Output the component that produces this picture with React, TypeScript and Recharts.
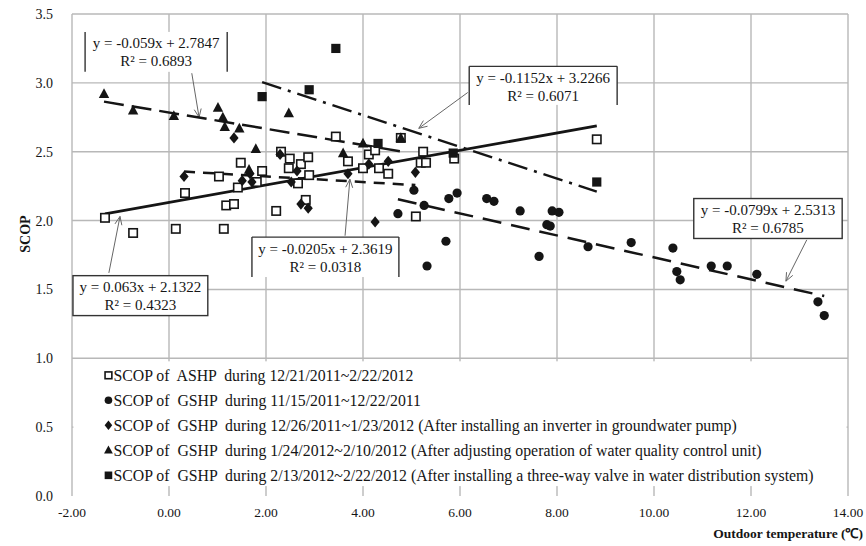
import React from 'react';
import {
  ScatterChart, Scatter, XAxis, YAxis, CartesianGrid, ReferenceArea, ReferenceLine, Label,
} from 'recharts';

const xTicks = [-2, 0, 2, 4, 6, 8, 10, 12, 14];
const yTicks = [0, 0.5, 1, 1.5, 2, 2.5, 3, 3.5];

// ASHP 12/21/2011 ~ 2/22/2012
const ashp = [
  { x: -1.32, y: 2.02 }, { x: -0.74, y: 1.91 }, { x: 0.14, y: 1.94 }, { x: 1.13, y: 1.94 },
  { x: 0.33, y: 2.2 }, { x: 1.18, y: 2.11 }, { x: 1.34, y: 2.12 }, { x: 2.21, y: 2.07 },
  { x: 1.48, y: 2.42 }, { x: 1.03, y: 2.32 }, { x: 1.92, y: 2.36 }, { x: 1.42, y: 2.24 },
  { x: 1.81, y: 2.28 }, { x: 2.31, y: 2.5 }, { x: 2.49, y: 2.45 }, { x: 2.72, y: 2.41 },
  { x: 2.87, y: 2.46 }, { x: 2.47, y: 2.38 }, { x: 2.89, y: 2.33 }, { x: 2.66, y: 2.27 },
  { x: 2.82, y: 2.15 }, { x: 3.44, y: 2.61 }, { x: 3.69, y: 2.43 }, { x: 4.0, y: 2.38 },
  { x: 4.12, y: 2.48 }, { x: 4.25, y: 2.51 }, { x: 4.33, y: 2.38 }, { x: 4.52, y: 2.34 },
  { x: 4.78, y: 2.6 }, { x: 5.09, y: 2.03 }, { x: 5.19, y: 2.42 }, { x: 5.24, y: 2.5 },
  { x: 5.3, y: 2.42 }, { x: 5.88, y: 2.45 }, { x: 8.82, y: 2.59 },
];

// GSHP 11/15/2011 ~ 12/22/2011
const gshpNov = [
  { x: 4.72, y: 2.05 }, { x: 5.05, y: 2.22 }, { x: 5.26, y: 2.11 }, { x: 5.32, y: 1.67 },
  { x: 5.71, y: 1.85 }, { x: 5.77, y: 2.16 }, { x: 5.94, y: 2.2 }, { x: 6.55, y: 2.16 },
  { x: 6.7, y: 2.14 }, { x: 7.24, y: 2.07 }, { x: 7.63, y: 1.74 }, { x: 7.79, y: 1.97 },
  { x: 7.86, y: 1.96 }, { x: 7.9, y: 2.07 }, { x: 8.04, y: 2.06 }, { x: 8.64, y: 1.81 },
  { x: 9.53, y: 1.84 }, { x: 10.39, y: 1.8 }, { x: 10.47, y: 1.63 }, { x: 10.54, y: 1.57 },
  { x: 11.18, y: 1.67 }, { x: 11.51, y: 1.67 }, { x: 12.12, y: 1.61 }, { x: 13.38, y: 1.41 },
  { x: 13.51, y: 1.31 },
];

// GSHP 12/26/2011 ~ 1/23/2012
const gshpDec = [
  { x: 0.31, y: 2.32 }, { x: 1.34, y: 2.6 }, { x: 1.51, y: 2.29 }, { x: 1.67, y: 2.34 },
  { x: 1.71, y: 2.28 }, { x: 2.29, y: 2.48 }, { x: 2.52, y: 2.28 }, { x: 2.64, y: 2.36 },
  { x: 2.72, y: 2.12 }, { x: 2.87, y: 2.09 }, { x: 3.69, y: 2.34 }, { x: 4.12, y: 2.41 },
  { x: 4.25, y: 1.99 }, { x: 4.52, y: 2.43 }, { x: 5.08, y: 2.35 },
];

// GSHP 1/24/2012 ~ 2/10/2012
const gshpJan = [
  { x: -1.34, y: 2.92 }, { x: -0.74, y: 2.8 }, { x: 0.1, y: 2.76 }, { x: 1.01, y: 2.82 },
  { x: 1.11, y: 2.75 }, { x: 1.15, y: 2.68 }, { x: 1.45, y: 2.67 }, { x: 1.65, y: 2.37 },
  { x: 1.79, y: 2.52 }, { x: 2.47, y: 2.78 }, { x: 3.59, y: 2.49 }, { x: 4.0, y: 2.56 },
  { x: 4.78, y: 2.6 },
];

// GSHP 2/13/2012 ~ 2/22/2012
const gshpFeb = [
  { x: 1.92, y: 2.9 }, { x: 2.89, y: 2.95 }, { x: 3.44, y: 3.25 }, { x: 4.31, y: 2.56 },
  { x: 5.86, y: 2.49 }, { x: 8.82, y: 2.28 },
];

const seriesNames = [
  'SCOP of  ASHP  during 12/21/2011~2/22/2012',
  'SCOP of  GSHP  during 11/15/2011~12/22/2011',
  'SCOP of  GSHP  during 12/26/2011~1/23/2012 (After installing an inverter in groundwater pump)',
  'SCOP of  GSHP  during 1/24/2012~2/10/2012 (After adjusting operation of water quality control unit)',
  'SCOP of  GSHP  during 2/13/2012~2/22/2012 (After installing a three-way valve in water distribution system)',
];

// linear trendlines as printed on the chart
const slopes = [0.063, -0.0799, -0.0205, -0.059, -0.1152];
const intercepts = [2.1322, 2.5313, 2.3619, 2.7847, 3.2266];
const rSquared = ['0.4323', '0.6785', '0.0318', '0.6893', '0.6071'];

const allSeries = [ashp, gshpNov, gshpDec, gshpJan, gshpFeb];
const ink = '#151515';
const font = '"Liberation Serif", "Times New Roman", serif';
const dashes = ['', '19 10', '11 8', '20 8', '20 7 3 7'];

// equation boxes and their arrows, in data units
const boxes = [
  { s: 0, x1: -1.98, x2: 0.8, y1: 1.31, y2: 1.6, sides: 'all', from: [-1.24, 1.62], to: [-1.01, 2.03] },
  { s: 1, x1: 10.82, x2: 13.88, y1: 1.87, y2: 2.16, sides: 'all', from: [13.15, 1.86], to: [12.72, 1.56] },
  { s: 2, x1: 1.71, x2: 4.74, y1: 1.59, y2: 1.88, sides: 'tlr', from: [3.63, 1.89], to: [3.73, 2.3] },
  { s: 3, x1: -1.73, x2: 1.2, y1: 3.08, y2: 3.37, sides: 'lr', from: [0.47, 3.07], to: [0.62, 2.75] },
  { s: 4, x1: 6.19, x2: 9.24, y1: 2.84, y2: 3.12, sides: 'tlr', from: [6.16, 2.93], to: [5.15, 2.67] },
];

const trendData = (i: number) => {
  const xs = allSeries[i].map((p) => p.x);
  const lo = Math.min(...xs);
  const hi = Math.max(...xs);
  return [
    { x: lo, y: slopes[i] * lo + intercepts[i] },
    { x: hi, y: slopes[i] * hi + intercepts[i] },
  ];
};

const Marker = ({ kind, cx, cy, r = 4.6 }: any) => {
  if (kind === 0)
    return <rect x={cx - r + 0.4} y={cy - r + 0.4} width={2 * r - 0.8} height={2 * r - 0.8} fill="#fff" stroke={ink} strokeWidth={1.6} />;
  if (kind === 1) return <circle cx={cx} cy={cy} r={r} fill={ink} />;
  if (kind === 2)
    return <path d={`M${cx},${cy - r - 1}L${cx + r},${cy}L${cx},${cy + r + 1}L${cx - r},${cy}Z`} fill={ink} />;
  if (kind === 3)
    return <path d={`M${cx},${cy - r - 1}L${cx + r + 0.6},${cy + r - 0.5}L${cx - r - 0.6},${cy + r - 0.5}Z`} fill={ink} />;
  return <rect x={cx - r} y={cy - r} width={2 * r} height={2 * r} fill={ink} />;
};

const EqBox = ({ x, y, width, height, s, sides }: any) => {
  const sign = intercepts[s] < 0 ? '-' : '+';
  const cx = x + width / 2;
  return (
    <g>
      <rect x={x} y={y} width={width} height={height} fill="#fff" />
      {sides === 'all' && <rect x={x} y={y} width={width} height={height} fill="none" stroke="#333" strokeWidth={1.4} />}
      {sides !== 'all' && (
        <g stroke="#333" strokeWidth={1.4}>
          {sides === 'tlr' && <line x1={x} y1={y} x2={x + width} y2={y} />}
          <line x1={x} y1={y} x2={x} y2={y + height} />
          <line x1={x + width} y1={y} x2={x + width} y2={y + height} />
        </g>
      )}
      <text x={cx} y={y + 11.5} textAnchor="middle" dominantBaseline="central" fontFamily={font} fontSize={15} fill={ink}>
        {`y = ${slopes[s]}x ${sign} ${Math.abs(intercepts[s])}`}
      </text>
      <text x={cx} y={y + 29.5} textAnchor="middle" dominantBaseline="central" fontFamily={font} fontSize={15} fill={ink}>
        {`R² = ${rSquared[s]}`}
      </text>
    </g>
  );
};

const Arrow = ({ x1, y1, x2, y2 }: any) => {
  const a = Math.atan2(y2 - y1, x2 - x1);
  const h = 9;
  const p1 = [x2 - h * Math.cos(a - 0.4), y2 - h * Math.sin(a - 0.4)];
  const p2 = [x2 - h * Math.cos(a + 0.4), y2 - h * Math.sin(a + 0.4)];
  return (
    <g stroke="#666" strokeWidth={1} fill="none">
      <line x1={x1} y1={y1} x2={x2} y2={y2} />
      <polyline points={`${p1[0]},${p1[1]} ${x2},${y2} ${p2[0]},${p2[1]}`} />
    </g>
  );
};

const LegendBox = ({ x, y, width, height }: any) => (
  <g>
    <rect x={x} y={y} width={width} height={height} fill="#fff" />
    {seriesNames.map((name, i) => (
      <g key={name}>
        <Marker kind={i} cx={x + 35} cy={y + 14 + i * 25} r={3.8} />
        <text x={x + 40} y={y + 14 + i * 25} dominantBaseline="central" fontFamily={font} fontSize={15.8} fill={ink} style={{ whiteSpace: 'pre' }}>
          {name}
        </text>
      </g>
    ))}
  </g>
);

const App: React.FC = () => {
  return (
    <div style={{ position: 'absolute', left: 0, top: 0, background: '#fff' }}>
      <ScatterChart width={866} height={546} margin={{ top: 14, right: 18, bottom: 20, left: 12 }}>
        <CartesianGrid
          stroke="#b8b8b8"
          strokeWidth={1.4}
          horizontalValues={[0.5, 1, 1.5, 2, 2.5, 3, 3.5]}
          verticalValues={xTicks}
        />
        <XAxis
          type="number"
          dataKey="x"
          domain={[-2, 14]}
          ticks={xTicks}
          tickFormatter={(v: number) => v.toFixed(2)}
          axisLine={false}
          tickLine={false}
          tickSize={0}
          tickMargin={11}
          height={30}
          tick={{ fontFamily: font, fontSize: 13.5, fill: ink }}
        >
          <Label
            content={({ viewBox }: any) => (
              <text x={viewBox.x + viewBox.width + 15} y={viewBox.y + 42} textAnchor="end" fontFamily={font} fontWeight="bold" fontSize={13.5} fill={ink}>
                Outdoor temperature (℃)
              </text>
            )}
          />
        </XAxis>
        <YAxis
          type="number"
          dataKey="y"
          domain={[0, 3.5]}
          ticks={yTicks}
          tickFormatter={(v: number) => v.toFixed(1)}
          axisLine={false}
          tickLine={false}
          tickSize={0}
          tickMargin={19}
          width={60}
          tick={{ fontFamily: font, fontSize: 14, fill: ink }}
        >
          <Label
            content={({ viewBox }: any) => (
              <text x={viewBox.x + 13} y={viewBox.y + 220} transform={`rotate(-90 ${viewBox.x + 13} ${viewBox.y + 220})`} textAnchor="middle" dominantBaseline="central" fontFamily={font} fontWeight="bold" fontSize={14} fill={ink}>
                SCOP
              </text>
            )}
          />
        </YAxis>

        <ReferenceArea x1={-1.97} x2={13.97} y1={0.072} y2={0.978} shape={(p: any) => <LegendBox {...p} />} />

        {allSeries.map((_, i) => (
          <Scatter
            key={`trend-${i}`}
            data={trendData(i)}
            line={{ stroke: ink, strokeWidth: i === 0 ? 2.8 : 2.5, strokeDasharray: dashes[i] }}
            shape={() => <g />}
            isAnimationActive={false}
          />
        ))}
        {allSeries.map((data, i) => (
          <Scatter
            key={`pts-${i}`}
            data={data}
            shape={(p: any) => <Marker kind={i} cx={p.cx} cy={p.cy} />}
            isAnimationActive={false}
          />
        ))}

        {boxes.map((b) => (
          <ReferenceArea
            key={`box-${b.s}`}
            x1={b.x1}
            x2={b.x2}
            y1={b.y1}
            y2={b.y2}
            shape={(p: any) => <EqBox {...p} s={b.s} sides={b.sides} />}
          />
        ))}
        {boxes.map((b) => (
          <ReferenceLine
            key={`arrow-${b.s}`}
            segment={[{ x: b.from[0], y: b.from[1] }, { x: b.to[0], y: b.to[1] }]}
            shape={(p: any) => <Arrow {...p} />}
          />
        ))}
      </ScatterChart>
    </div>
  );
};

export default App;
